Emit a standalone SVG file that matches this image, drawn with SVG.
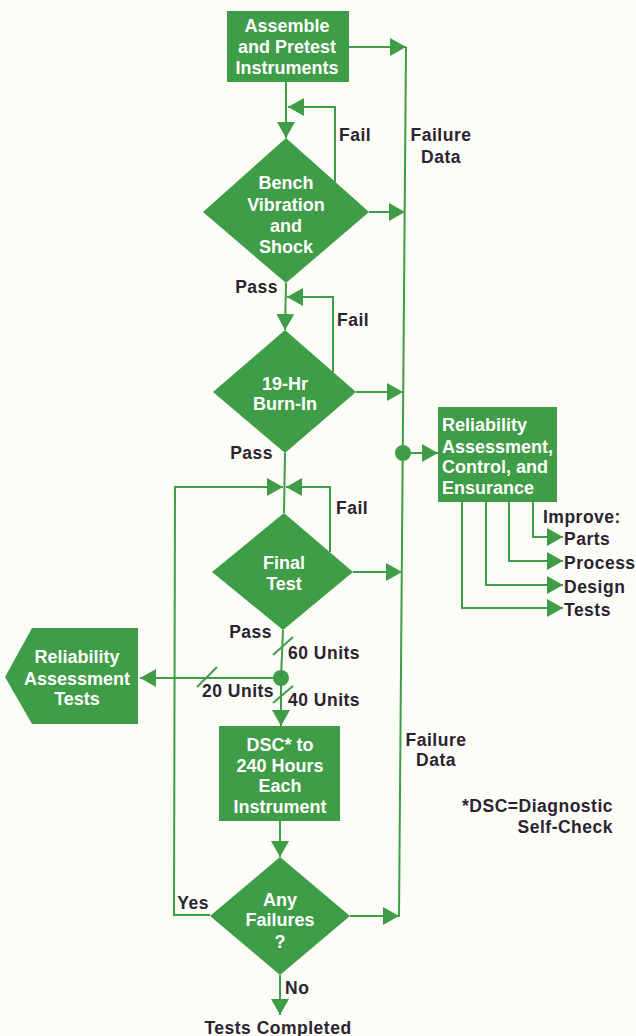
<svg xmlns="http://www.w3.org/2000/svg" width="636" height="1036" viewBox="0 0 636 1036">
<style>
.bg{fill:#fdfdf8}
.node{fill:#3f9c47}
.ln{fill:none;stroke:#3f9c47;stroke-width:2}
.wt{font-family:"Liberation Sans",Arial,sans-serif;font-weight:bold;font-size:18px;fill:#ffffff;text-anchor:middle}
.wl{font-family:"Liberation Sans",Arial,sans-serif;font-weight:bold;font-size:18px;fill:#ffffff}
.dk{font-family:"Liberation Sans",Arial,sans-serif;font-weight:bold;font-size:17.5px;letter-spacing:0.5px;fill:#2b2430}
.dot{fill:#3f9c47}
</style>
<defs>
<marker id="ah" markerUnits="userSpaceOnUse" markerWidth="16" markerHeight="18" refX="16" refY="9" orient="auto" viewBox="0 0 16 18">
<path d="M0,0 L16,9 L0,18 z" fill="#3f9c47"/>
</marker>
</defs>
<rect class="bg" x="0" y="0" width="636" height="1036"/>

<g id="connectors">
<line class="ln" x1="286" y1="82" x2="286" y2="138" marker-end="url(#ah)"/>
<line class="ln" x1="286" y1="283" x2="285" y2="330" marker-end="url(#ah)"/>
<line class="ln" x1="285" y1="453" x2="284" y2="513"/>
<line class="ln" x1="283" y1="630" x2="281" y2="678"/>
<line class="ln" x1="281" y1="678" x2="281" y2="726" marker-end="url(#ah)"/>
<line class="ln" x1="280" y1="821" x2="280" y2="857" marker-end="url(#ah)"/>
<line class="ln" x1="280" y1="975" x2="280" y2="1015" marker-end="url(#ah)"/>
<polyline class="ln" points="335,182 335,107 288,107" marker-end="url(#ah)"/>
<polyline class="ln" points="333,372 333,297 287,297" marker-end="url(#ah)"/>
<polyline class="ln" points="330,552 330,487 286,487" marker-end="url(#ah)"/>
<polyline class="ln" points="210,915 174,915 175,487 283,487" marker-end="url(#ah)"/>
<line class="ln" x1="406" y1="47" x2="399" y2="917"/>
<line class="ln" x1="349" y1="47" x2="406" y2="47" marker-end="url(#ah)"/>
<line class="ln" x1="369" y1="212" x2="405" y2="212" marker-end="url(#ah)"/>
<line class="ln" x1="356" y1="392" x2="403" y2="392" marker-end="url(#ah)"/>
<line class="ln" x1="353" y1="572" x2="402" y2="572" marker-end="url(#ah)"/>
<line class="ln" x1="350" y1="916" x2="399" y2="916" marker-end="url(#ah)"/>
<circle class="dot" cx="403" cy="453" r="8"/>
<line class="ln" x1="403" y1="453" x2="438" y2="453" marker-end="url(#ah)"/>
<polyline class="ln" points="533,502 533,537 563,537" marker-end="url(#ah)"/>
<polyline class="ln" points="509,502 509,561 563,561" marker-end="url(#ah)"/>
<polyline class="ln" points="486,502 486,585 563,585" marker-end="url(#ah)"/>
<polyline class="ln" points="462,502 462,608 563,608" marker-end="url(#ah)"/>
<circle class="dot" cx="281" cy="678" r="8"/>
<line class="ln" x1="281" y1="678" x2="140" y2="678" marker-end="url(#ah)"/>
<line class="ln" x1="273" y1="655" x2="293" y2="637"/>
<line class="ln" x1="197" y1="687" x2="217" y2="667"/>
<line class="ln" x1="273" y1="703" x2="293" y2="686"/>
</g>

<g id="assemble">
<rect class="node" x="227" y="11" width="122" height="71"/>
<text class="wt" x="287" y="32">Assemble</text>
<text class="wt" x="287" y="53">and Pretest</text>
<text class="wt" x="287" y="74">Instruments</text>
</g>

<g id="bench">
<polygon class="node" points="286,138 369,212 286,283 203,212"/>
<text class="wt" x="286" y="189">Bench</text>
<text class="wt" x="286" y="211">Vibration</text>
<text class="wt" x="286" y="232">and</text>
<text class="wt" x="286" y="253">Shock</text>
</g>

<g id="burnin">
<polygon class="node" points="285,330 356,392 285,453 213,392"/>
<text class="wt" x="285" y="390">19-Hr</text>
<text class="wt" x="285" y="410">Burn-In</text>
</g>

<g id="finaltest">
<polygon class="node" points="284,513 353,572 283,630 212,572"/>
<text class="wt" x="284" y="569">Final</text>
<text class="wt" x="284" y="590">Test</text>
</g>

<g id="reliability-tests">
<polygon class="node" points="5,677 32,628 138,628 138,724 32,724"/>
<text class="wt" x="77" y="663">Reliability</text>
<text class="wt" x="77" y="685">Assessment</text>
<text class="wt" x="77" y="705">Tests</text>
</g>

<g id="dsc">
<rect class="node" x="219" y="726" width="121" height="95"/>
<text class="wt" x="280" y="751">DSC* to</text>
<text class="wt" x="280" y="772">240 Hours</text>
<text class="wt" x="280" y="792">Each</text>
<text class="wt" x="280" y="813">Instrument</text>
</g>

<g id="anyfailures">
<polygon class="node" points="280,857 350,916 280,975 210,916"/>
<text class="wt" x="280" y="906">Any</text>
<text class="wt" x="280" y="926">Failures</text>
<text class="wt" x="280" y="948">?</text>
</g>

<g id="reliability-control">
<rect class="node" x="438" y="407" width="119" height="95"/>
<text class="wl" x="442" y="431">Reliability</text>
<text class="wl" x="442" y="453">Assessment,</text>
<text class="wl" x="442" y="473">Control, and</text>
<text class="wl" x="442" y="494">Ensurance</text>
</g>

<g id="labels">
<text class="dk" x="339" y="141">Fail</text>
<text class="dk" x="337" y="326">Fail</text>
<text class="dk" x="336" y="514">Fail</text>
<text class="dk" x="278" y="293" text-anchor="end">Pass</text>
<text class="dk" x="273" y="459" text-anchor="end">Pass</text>
<text class="dk" x="272" y="638" text-anchor="end">Pass</text>
<text class="dk" x="441" y="141" text-anchor="middle">Failure</text>
<text class="dk" x="441" y="163" text-anchor="middle">Data</text>
<text class="dk" x="436" y="746" text-anchor="middle">Failure</text>
<text class="dk" x="436" y="766" text-anchor="middle">Data</text>
<text class="dk" x="543" y="523">Improve:</text>
<text class="dk" x="564" y="545">Parts</text>
<text class="dk" x="564" y="569">Process</text>
<text class="dk" x="564" y="593">Design</text>
<text class="dk" x="564" y="616">Tests</text>
<text class="dk" x="288" y="659">60 Units</text>
<text class="dk" x="202" y="697">20 Units</text>
<text class="dk" x="288" y="706">40 Units</text>
<text class="dk" x="613" y="812" text-anchor="end">*DSC=Diagnostic</text>
<text class="dk" x="613" y="833" text-anchor="end">Self-Check</text>
<text class="dk" x="209" y="909" text-anchor="end">Yes</text>
<text class="dk" x="285" y="994">No</text>
<text class="dk" x="278" y="1034" text-anchor="middle">Tests Completed</text>
</g>
</svg>
